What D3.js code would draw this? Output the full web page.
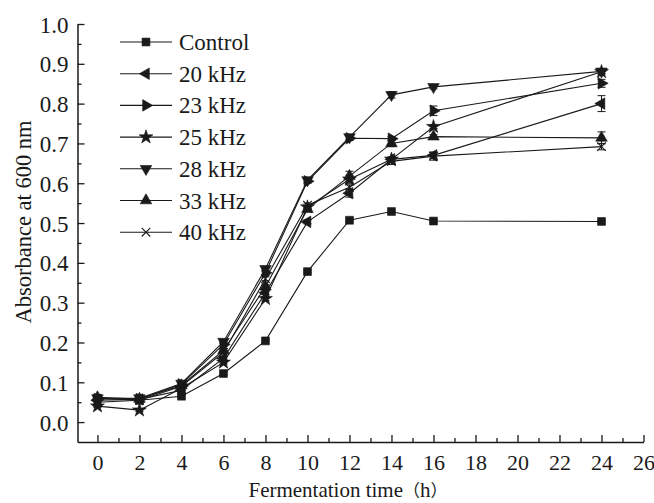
<!DOCTYPE html>
<html>
<head>
<meta charset="utf-8">
<script src="https://cdn.jsdelivr.net/npm/d3@7"></script>
<style>
  body { margin: 0; background: #fff; }
  svg { display: block; }
</style>
</head>
<body>
<svg id="chart" width="654" height="503"></svg>
<script>
//

const times = [0, 2, 4, 6, 8, 10, 12, 14, 16, 24]
const seriesNames = ['Control', '20 kHz', '23 kHz', '25 kHz', '28 kHz', '33 kHz', '40 kHz']

const control = [0.060, 0.055, 0.065, 0.122, 0.204, 0.378, 0.507, 0.529, 0.505, 0.504]
const khz20 = [0.055, 0.057, 0.080, 0.160, 0.325, 0.503, 0.575, 0.660, 0.670, 0.800]
const khz23 = [0.058, 0.058, 0.095, 0.195, 0.375, 0.605, 0.713, 0.712, 0.782, 0.851]
const khz25 = [0.040, 0.030, 0.085, 0.150, 0.310, 0.540, 0.610, 0.660, 0.742, 0.880]
const khz28 = [0.060, 0.060, 0.097, 0.202, 0.385, 0.608, 0.716, 0.822, 0.842, 0.881]
const khz33 = [0.062, 0.058, 0.092, 0.180, 0.340, 0.535, 0.618, 0.700, 0.717, 0.714]
const khz40 = [0.050, 0.055, 0.090, 0.175, 0.360, 0.545, 0.590, 0.655, 0.668, 0.692]

// error bar half-widths
const errControl = [0.003, 0.003, 0.003, 0.003, 0.003, 0.003, 0.003, 0.003, 0.003, 0.003]
const err20 = [0.003, 0.003, 0.003, 0.004, 0.005, 0.005, 0.010, 0.006, 0.008, 0.020]
const err23 = [0.003, 0.003, 0.003, 0.004, 0.005, 0.005, 0.006, 0.005, 0.012, 0.010]
const err25 = [0.003, 0.003, 0.003, 0.004, 0.005, 0.005, 0.010, 0.005, 0.005, 0.005]
const err28 = [0.003, 0.003, 0.003, 0.004, 0.005, 0.005, 0.006, 0.008, 0.005, 0.005]
const err33 = [0.003, 0.003, 0.003, 0.004, 0.005, 0.005, 0.012, 0.008, 0.005, 0.015]
const err40 = [0.003, 0.003, 0.003, 0.004, 0.005, 0.005, 0.006, 0.008, 0.010, 0.008]

const xTicks = d3.range(0, 27, 2)
const xMinorTicks = d3.range(1, 26, 2)
const yTicks = d3.range(0, 11).map((i) => i / 10)
const yMinorTicks = d3.range(0, 10).map((i) => i / 10 + 0.05)

//

const series = [
  { name: seriesNames[0], values: control, err: errControl, symbol: d3.symbolSquare, size: 62, rotate: 0, fill: true },
  { name: seriesNames[1], values: khz20, err: err20, symbol: d3.symbolTriangle, size: 58, rotate: -90, fill: true },
  { name: seriesNames[2], values: khz23, err: err23, symbol: d3.symbolTriangle, size: 58, rotate: 90, fill: true },
  { name: seriesNames[3], values: khz25, err: err25, symbol: d3.symbolStar, size: 60, rotate: 0, fill: true },
  { name: seriesNames[4], values: khz28, err: err28, symbol: d3.symbolTriangle, size: 58, rotate: 180, fill: true },
  { name: seriesNames[5], values: khz33, err: err33, symbol: d3.symbolTriangle, size: 58, rotate: 0, fill: true },
  { name: seriesNames[6], values: khz40, err: err40, symbol: d3.symbolTimes || d3.symbolX, size: 50, rotate: 0, fill: false }
]

const serif = 'Liberation Serif, Times New Roman, Times, DejaVu Serif, serif'
const cjk = 'Noto Sans CJK SC, Noto Sans CJK JP, sans-serif'
const ink = '#1a1a1a'

const svg = d3.select('#chart')

const x = d3.scaleLinear().domain([-0.95, 26]).range([77.5, 643.5])
const y = d3.scaleLinear().domain([-0.05, 1.0]).range([442, 24])

//

// axes
const yAxis = svg.append('g')
  .attr('transform', `translate(${x.range()[0]},0)`)
  .call(d3.axisLeft(y)
    .tickValues(yTicks)
    .tickFormat(d3.format('.1f'))
    .tickSizeInner(-7)
    .tickSizeOuter(0)
    .tickPadding(9))

yAxis.append('g')
  .call(d3.axisLeft(y)
    .tickValues(yMinorTicks)
    .tickFormat('')
    .tickSizeInner(-4)
    .tickSizeOuter(0))
  .select('.domain').remove()

const xAxis = svg.append('g')
  .attr('transform', `translate(0,${y.range()[0]})`)
  .call(d3.axisBottom(x)
    .tickValues(xTicks)
    .tickFormat(d3.format('d'))
    .tickSizeInner(-7)
    .tickSizeOuter(0)
    .tickPadding(12))

xAxis.append('g')
  .call(d3.axisBottom(x)
    .tickValues(xMinorTicks)
    .tickFormat('')
    .tickSizeInner(-4)
    .tickSizeOuter(0))
  .select('.domain').remove()

svg.selectAll('g').attr('font-family', serif)
svg.selectAll('.domain').attr('stroke', ink).attr('stroke-width', 1.5)
svg.selectAll('.tick line').attr('stroke', ink).attr('stroke-width', 1.3)
svg.selectAll('.tick text')
  .attr('fill', ink)
  .style('font-family', serif)
yAxis.selectAll('.tick text').attr('dy', '0.35em').attr('font-size', 23)
xAxis.selectAll('.tick text').attr('font-size', 22)

// axis titles
const xTitle = svg.append('text')
  .attr('x', 348)
  .attr('y', 497)
  .attr('text-anchor', 'middle')
  .style('font-family', serif)
  .attr('font-size', 21)
  .attr('fill', ink)
xTitle.append('tspan').text('Fermentation time')
xTitle.append('tspan').style('font-family', cjk).attr('font-size', 17).text('（')
xTitle.append('tspan').text('h')
xTitle.append('tspan').style('font-family', cjk).attr('font-size', 17).text('）')

svg.append('text')
  .attr('transform', `translate(31,222) rotate(-90)`)
  .attr('text-anchor', 'middle')
  .style('font-family', serif)
  .attr('font-size', 22.5)
  .attr('fill', ink)
  .text('Absorbance at 600 nm')

//

const line = d3.line()
  .x((d) => x(d[0]))
  .y((d) => y(d[1]))

const symbolPath = (s) => d3.symbol().type(s.symbol).size(s.size)()

const plot = svg.append('g')

series.forEach((s) => {
  const pts = times.map((t, i) => [t, s.values[i], s.err[i]])
  const g = plot.append('g')

  g.append('path')
    .datum(pts)
    .attr('fill', 'none')
    .attr('stroke', ink)
    .attr('stroke-width', 1.1)
    .attr('d', line)

  // error bars
  const eb = g.selectAll('.eb')
    .data(pts)
    .join('g')
    .attr('class', 'eb')
    .attr('stroke', ink)
    .attr('stroke-width', 1)
  eb.append('line')
    .attr('x1', (d) => x(d[0])).attr('x2', (d) => x(d[0]))
    .attr('y1', (d) => y(d[1] - d[2])).attr('y2', (d) => y(d[1] + d[2]))
  eb.append('line')
    .attr('x1', (d) => x(d[0]) - 4).attr('x2', (d) => x(d[0]) + 4)
    .attr('y1', (d) => y(d[1] + d[2])).attr('y2', (d) => y(d[1] + d[2]))
  eb.append('line')
    .attr('x1', (d) => x(d[0]) - 4).attr('x2', (d) => x(d[0]) + 4)
    .attr('y1', (d) => y(d[1] - d[2])).attr('y2', (d) => y(d[1] - d[2]))

  g.selectAll('.mk')
    .data(pts)
    .join('path')
    .attr('class', 'mk')
    .attr('transform', (d) => `translate(${x(d[0])},${y(d[1])}) rotate(${s.rotate})`)
    .attr('d', symbolPath(s))
    .attr('fill', s.fill ? ink : 'none')
    .attr('stroke', ink)
    .attr('stroke-width', s.fill ? 0.6 : 1.1)
})

//

// legend
const legend = svg.append('g').attr('transform', 'translate(120,42)')
const rowStep = 31.7

series.forEach((s, i) => {
  const row = legend.append('g').attr('transform', `translate(0,${i * rowStep})`)
  row.append('line')
    .attr('x1', 0).attr('x2', 52)
    .attr('y1', 0).attr('y2', 0)
    .attr('stroke', ink)
    .attr('stroke-width', 1.1)
  row.append('path')
    .attr('transform', `translate(26,0) rotate(${s.rotate})`)
    .attr('d', symbolPath(s))
    .attr('fill', s.fill ? ink : 'none')
    .attr('stroke', ink)
    .attr('stroke-width', s.fill ? 0.6 : 1.1)
  row.append('text')
    .attr('x', 59)
    .attr('y', 0)
    .attr('dy', '0.35em')
    .style('font-family', serif)
    .attr('font-size', 23)
    .attr('fill', ink)
    .text(s.name)
})
</script>
</body>
</html>
